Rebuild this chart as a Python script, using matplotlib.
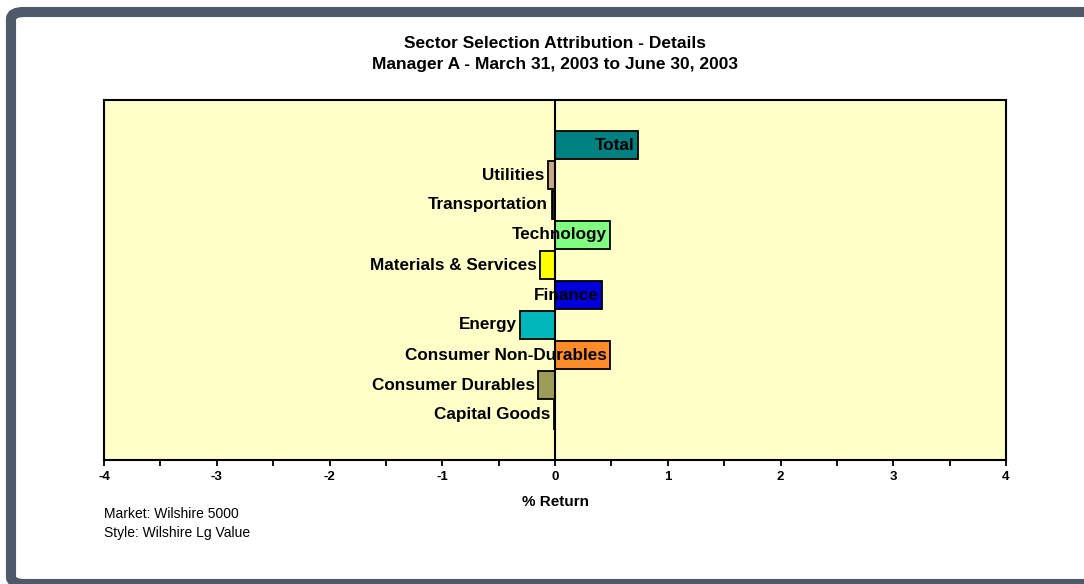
import matplotlib.pyplot as plt
from matplotlib.patches import FancyBboxPatch
import numpy as np

# Sectors (bottom to top) and their selection attribution in % return
setores = ['Capital Goods', 'Consumer Durables', 'Consumer Non-Durables', 'Energy',
           'Finance', 'Materials & Services', 'Technology', 'Transportation',
           'Utilities', 'Total']
retornos = [-0.01, -0.15, 0.49, -0.31, 0.42, -0.13, 0.49, -0.03, -0.06, 0.74]
cores = ['#202040', '#9c9c58', '#ff8c28', '#00b8bc', '#0000dc',
         '#ffff00', '#80ff80', '#202040', '#c8a888', '#008080']
xticks = [-4, -3, -2, -1, 0, 1, 2, 3, 4]

plt.rcParams['font.family'] = ['Liberation Sans', 'DejaVu Sans']

fig = plt.figure(figsize=(10.84, 5.84), dpi=100)
fig.patch.set_facecolor('white')

# moldura cinza ao redor da figura
W, H = 1084, 584
moldura = FancyBboxPatch((11 / W, 0 / H), 1.2, (572 - 0) / H,
                         boxstyle='round,pad=0,rounding_size=0.012',
                         transform=fig.transFigure, facecolor='none',
                         edgecolor='#4e5a69', linewidth=7.3, clip_on=False)
fig.patches.append(moldura)

ax = fig.add_axes([104 / W, 1 - 460 / H, (1006 - 104) / W, (460 - 100) / H])
ax.set_facecolor('#ffffc8')

y = np.arange(len(setores))
ax.barh(y, retornos, height=0.96, color=cores, edgecolor='black', linewidth=1.3, zorder=3)

# linha vertical no zero
ax.axvline(0, color='black', linewidth=1.5, zorder=4)

# rótulos das categorias na ponta de cada barra
for yi, nome, val in zip(y, setores, retornos):
    ax.annotate(nome, xy=(val, yi), xytext=(-2.5, 0), textcoords='offset points',
                ha='right', va='center', fontsize=12.3, fontweight='bold', zorder=5)

ax.set_xlim(-4, 4)
ax.set_ylim(-1.5, 10.5)
ax.set_xticks(xticks)
ax.set_xticklabels([str(t) for t in xticks], fontsize=9.5, fontweight='bold')
ax.set_xticks(np.arange(-3.5, 4, 1), minor=True)
ax.tick_params(axis='x', which='both', direction='out', length=4, width=1.3, pad=4)
ax.set_yticks([])
for s in ax.spines.values():
    s.set_linewidth(1.5)

fig.text(555 / W, 1 - 502 / H, '% Return', ha='center', va='center',
         fontsize=11, fontweight='bold')

fig.text(555 / W, 1 - 44 / H, 'Sector Selection Attribution - Details',
         ha='center', va='center', fontsize=12.5, fontweight='bold')
fig.text(555 / W, 1 - 65 / H, 'Manager A - March 31, 2003 to June 30, 2003',
         ha='center', va='center', fontsize=12.5, fontweight='bold')

fig.text(104 / W, 1 - 514 / H, 'Market: Wilshire 5000', ha='left', va='center', fontsize=10)
fig.text(104 / W, 1 - 533 / H, 'Style: Wilshire Lg Value', ha='left', va='center', fontsize=10)

fig.savefig('out.png', dpi=100)
